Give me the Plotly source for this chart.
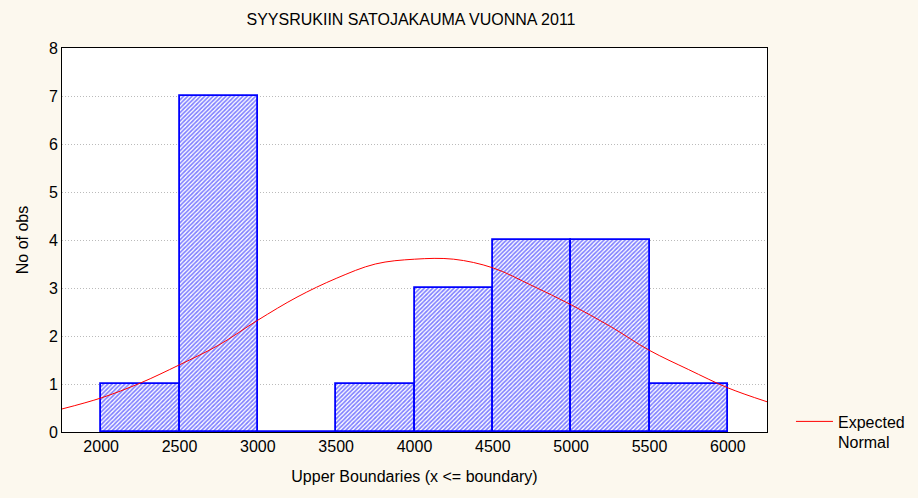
import plotly.graph_objects as go

# Histogram bins (upper boundaries) and counts
bin_lower = [2000, 2500, 3000, 3500, 4000, 4500, 5000, 5500]
bin_upper = [2500, 3000, 3500, 4000, 4500, 5000, 5500, 6000]
counts = [1, 7, 0, 1, 3, 4, 4, 1]

# Expected normal curve
curve_x = [1750, 2000, 2250, 2500, 2750, 3000, 3250, 3500, 3750, 4000,
           4250, 4500, 4750, 5000, 5250, 5500, 5750, 6000, 6250]
curve_y = [0.48, 0.71, 1.02, 1.40, 1.81, 2.33, 2.81, 3.20, 3.50, 3.60,
           3.60, 3.42, 3.05, 2.65, 2.20, 1.70, 1.30, 0.92, 0.63]

x_ticks = [2000, 2500, 3000, 3500, 4000, 4500, 5000, 5500, 6000]
y_ticks = [0, 1, 2, 3, 4, 5, 6, 7, 8]

FONT = "Liberation Sans, Arial, sans-serif"
BG = "#FCF8EE"

centers = [(a + b) / 2 for a, b in zip(bin_lower, bin_upper)]
widths = [b - a for a, b in zip(bin_lower, bin_upper)]

fig = go.Figure()
fig.add_trace(go.Bar(
    x=centers, y=counts, width=widths,
    marker=dict(color="white",
                line=dict(color="#0000FF", width=1.8),
                pattern=dict(shape="/", fgcolor="#0000FF", bgcolor="white",
                             size=3, solidity=0.55)),
    showlegend=False, hoverinfo="skip",
))
fig.add_trace(go.Scatter(
    x=curve_x, y=curve_y, mode="lines",
    line=dict(color="#FF0000", width=1, shape="spline"),
    name="Expected<br>Normal", showlegend=True,
))

fig.update_layout(
    width=918, height=498,
    margin=dict(l=62, r=151, t=48, b=66, autoexpand=False),
    paper_bgcolor=BG, plot_bgcolor="white",
    font=dict(family=FONT, size=16, color="black"),
    title=dict(text="SYYSRUKIIN SATOJAKAUMA VUONNA 2011",
               x=411 / 918, xanchor="center", y=1 - 19 / 498, yanchor="middle",
               font=dict(family=FONT, size=16, color="black")),
    legend=dict(x=1.034, y=0.0, xanchor="left", yanchor="middle",
                valign="top",
                bgcolor="rgba(0,0,0,0)", font=dict(family=FONT, size=16),
                itemwidth=37),
    bargap=0,
)
fig.update_xaxes(
    range=[1750, 6250], tickmode="array", tickvals=x_ticks,
    ticktext=[str(v) for v in x_ticks],
    showgrid=False, zeroline=False,
    showline=True, linecolor="black", linewidth=1, mirror=True,
    ticks="", ticklen=0,
    title=dict(text="Upper Boundaries (x <= boundary)", standoff=16,
               font=dict(family=FONT, size=16)),
)
fig.update_yaxes(
    range=[0, 8], tickmode="array", tickvals=y_ticks,
    showgrid=True, gridcolor="#BBBBBB", griddash="1px,2px", gridwidth=1,
    zeroline=False,
    showline=True, linecolor="black", linewidth=1, mirror=True,
    ticks="", ticklen=0,
    title=dict(text="No of obs", standoff=16, font=dict(family=FONT, size=16)),
)

fig.write_html("out.html")
